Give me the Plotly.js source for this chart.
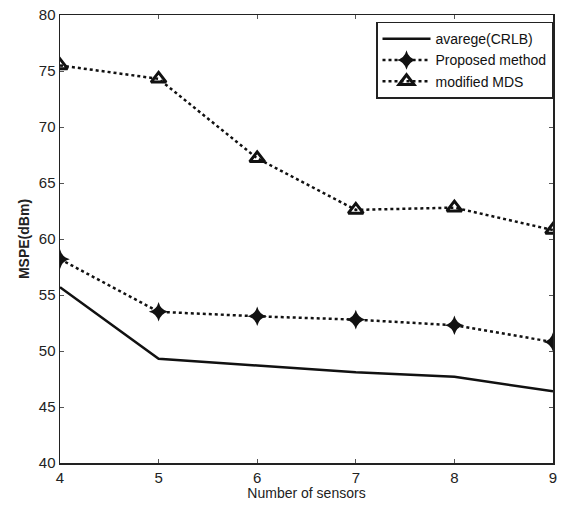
<!DOCTYPE html>
<html>
<head>
<meta charset="utf-8">
<script src="https://cdn.plot.ly/plotly-3.0.1.min.js"></script>
<style>html,body{margin:0;padding:0;background:#fff;}</style>
</head>
<body>
<div id="chart" style="width:570px;height:508px;"></div>
<script>
const sensors = [4, 5, 6, 7, 8, 9];
const crlb = [55.7, 49.3, 48.7, 48.1, 47.7, 46.4];
const proposed = [58.2, 53.5, 53.1, 52.8, 52.3, 50.8];
const modifiedMDS = [75.5, 74.3, 67.2, 62.6, 62.8, 60.8];
const seriesNames = ["avarege(CRLB)", "Proposed method", "modified MDS"];
const xTicks = [4, 5, 6, 7, 8, 9];
const yTicks = [40, 45, 50, 55, 60, 65, 70, 75, 80];

const traces = [
  {x: sensors, y: crlb, name: seriesNames[0], mode: "lines",
   line: {color: "#111", width: 2.5}},
  {x: sensors, y: proposed, name: seriesNames[1], mode: "lines+markers",
   line: {color: "#111", width: 2.5, dash: "dot"},
   marker: {symbol: "star-diamond", size: 14, color: "#111"}},
  {x: sensors, y: modifiedMDS, name: seriesNames[2], mode: "lines+markers",
   line: {color: "#111", width: 2.5, dash: "dot"},
   marker: {symbol: "triangle-up-open", size: 13, color: "#111", line: {width: 3, color: "#111"}}}
];

const axisCommon = {
  showgrid: false, zeroline: false, showline: true, mirror: "ticks",
  linecolor: "#222", linewidth: 1.5, ticks: "inside", ticklen: 4,
  tickcolor: "#555", tickfont: {family: "Liberation Sans, Arial", size: 15, color: "#222"}
};

const layout = {
  width: 570, height: 508,
  margin: {l: 60, r: 17, t: 15, b: 45},
  paper_bgcolor: "#fff", plot_bgcolor: "#fff",
  showlegend: true,
  legend: {x: 1.0, y: 0.985, xanchor: "right", yanchor: "top",
    bordercolor: "#222", borderwidth: 1.5, bgcolor: "#fff",
    font: {family: "Liberation Sans, Arial", size: 14, color: "#111"},
    tracegroupgap: 0, itemwidth: 48},
  xaxis: Object.assign({}, axisCommon, {range: [4, 9], tickvals: xTicks,
    title: {text: "Number of sensors", standoff: 3, font: {family: "Liberation Sans, Arial", size: 14, color: "#222"}}}),
  yaxis: Object.assign({}, axisCommon, {range: [40, 80], tickvals: yTicks,
    title: {text: "MSPE(dBm)", standoff: 6, font: {family: "Liberation Sans, Arial", size: 14, color: "#222", weight: "bold"}}})
};

Plotly.newPlot("chart", traces, layout, {displayModeBar: false, staticPlot: true});
</script>
</body>
</html>
